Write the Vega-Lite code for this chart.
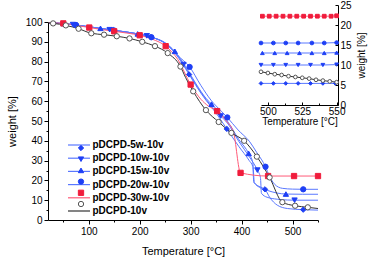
{
"$schema":"https://vega.github.io/schema/vega-lite/v6.json",
"width":270,"height":198,
"autosize":"none",
"padding":{"left":48,"top":22,"right":51,"bottom":38},
"background":"white",
"config":{"view":{"stroke":null},"font":"Liberation Sans",
"axis":{"grid":false,"domainColor":"black","tickColor":"black","labelColor":"black","titleColor":"black","labelFontSize":10,"titleFontSize":11,"titleFontWeight":"normal","labelFlush":false,"labelOverlap":false,"domainWidth":1,"tickWidth":1}},
"datasets":{
"curves":[
{"series":"pDCPD-5w-10v","T":22,"w":99.6},{"series":"pDCPD-5w-10v","T":50,"w":99.2},{"series":"pDCPD-5w-10v","T":75,"w":98.5},{"series":"pDCPD-5w-10v","T":100,"w":97.6},{"series":"pDCPD-5w-10v","T":125,"w":96.7},{"series":"pDCPD-5w-10v","T":150,"w":95.8},{"series":"pDCPD-5w-10v","T":175,"w":94.9},{"series":"pDCPD-5w-10v","T":200,"w":93.8},{"series":"pDCPD-5w-10v","T":225,"w":92.2},{"series":"pDCPD-5w-10v","T":250,"w":89.2},{"series":"pDCPD-5w-10v","T":270,"w":84},{"series":"pDCPD-5w-10v","T":297,"w":73.5},{"series":"pDCPD-5w-10v","T":310,"w":68},{"series":"pDCPD-5w-10v","T":330,"w":60.5},{"series":"pDCPD-5w-10v","T":350,"w":54},{"series":"pDCPD-5w-10v","T":371,"w":46},{"series":"pDCPD-5w-10v","T":395,"w":37},{"series":"pDCPD-5w-10v","T":415,"w":30},{"series":"pDCPD-5w-10v","T":422,"w":27},{"series":"pDCPD-5w-10v","T":424,"w":19},{"series":"pDCPD-5w-10v","T":440,"w":16.3},{"series":"pDCPD-5w-10v","T":446,"w":15.5},{"series":"pDCPD-5w-10v","T":455,"w":11.5},{"series":"pDCPD-5w-10v","T":470,"w":7.5},{"series":"pDCPD-5w-10v","T":490,"w":5.8},{"series":"pDCPD-5w-10v","T":521,"w":5.2},{"series":"pDCPD-5w-10v","T":550,"w":5.0},
{"series":"pDCPD-10w-10v","T":22,"w":99.6},{"series":"pDCPD-10w-10v","T":50,"w":99.2},{"series":"pDCPD-10w-10v","T":75,"w":98.5},{"series":"pDCPD-10w-10v","T":100,"w":97.6},{"series":"pDCPD-10w-10v","T":125,"w":96.7},{"series":"pDCPD-10w-10v","T":150,"w":95.8},{"series":"pDCPD-10w-10v","T":175,"w":94.9},{"series":"pDCPD-10w-10v","T":200,"w":93.8},{"series":"pDCPD-10w-10v","T":225,"w":92.2},{"series":"pDCPD-10w-10v","T":250,"w":89.2},{"series":"pDCPD-10w-10v","T":270,"w":84.5},{"series":"pDCPD-10w-10v","T":286,"w":78.5},{"series":"pDCPD-10w-10v","T":310,"w":68.5},{"series":"pDCPD-10w-10v","T":330,"w":61},{"series":"pDCPD-10w-10v","T":359,"w":52.5},{"series":"pDCPD-10w-10v","T":372,"w":49},{"series":"pDCPD-10w-10v","T":395,"w":39.5},{"series":"pDCPD-10w-10v","T":415,"w":32},{"series":"pDCPD-10w-10v","T":431,"w":25.2},{"series":"pDCPD-10w-10v","T":437,"w":21.5},{"series":"pDCPD-10w-10v","T":439,"w":13.5},{"series":"pDCPD-10w-10v","T":450,"w":11.5},{"series":"pDCPD-10w-10v","T":470,"w":10.5},{"series":"pDCPD-10w-10v","T":490,"w":10.1},{"series":"pDCPD-10w-10v","T":504,"w":10},{"series":"pDCPD-10w-10v","T":550,"w":10},
{"series":"pDCPD-15w-10v","T":22,"w":99.6},{"series":"pDCPD-15w-10v","T":51,"w":99.2},{"series":"pDCPD-15w-10v","T":75,"w":98.5},{"series":"pDCPD-15w-10v","T":100,"w":97.6},{"series":"pDCPD-15w-10v","T":123,"w":96.8},{"series":"pDCPD-15w-10v","T":150,"w":95.8},{"series":"pDCPD-15w-10v","T":175,"w":94.9},{"series":"pDCPD-15w-10v","T":196,"w":94},{"series":"pDCPD-15w-10v","T":225,"w":92.2},{"series":"pDCPD-15w-10v","T":250,"w":89.4},{"series":"pDCPD-15w-10v","T":269,"w":85.2},{"series":"pDCPD-15w-10v","T":290,"w":77.5},{"series":"pDCPD-15w-10v","T":310,"w":69},{"series":"pDCPD-15w-10v","T":330,"w":61.5},{"series":"pDCPD-15w-10v","T":341,"w":58.5},{"series":"pDCPD-15w-10v","T":372,"w":50},{"series":"pDCPD-15w-10v","T":395,"w":40.5},{"series":"pDCPD-15w-10v","T":414,"w":33.6},{"series":"pDCPD-15w-10v","T":422,"w":29},{"series":"pDCPD-15w-10v","T":425,"w":19},{"series":"pDCPD-15w-10v","T":435,"w":16.5},{"series":"pDCPD-15w-10v","T":450,"w":15},{"series":"pDCPD-15w-10v","T":470,"w":13.6},{"series":"pDCPD-15w-10v","T":487,"w":13.1},{"series":"pDCPD-15w-10v","T":520,"w":13},{"series":"pDCPD-15w-10v","T":550,"w":13},
{"series":"pDCPD-20w-10v","T":22,"w":99.6},{"series":"pDCPD-20w-10v","T":50,"w":99.2},{"series":"pDCPD-20w-10v","T":75,"w":98.5},{"series":"pDCPD-20w-10v","T":100,"w":97.6},{"series":"pDCPD-20w-10v","T":125,"w":96.7},{"series":"pDCPD-20w-10v","T":149,"w":95.8},{"series":"pDCPD-20w-10v","T":175,"w":94.9},{"series":"pDCPD-20w-10v","T":200,"w":93.8},{"series":"pDCPD-20w-10v","T":223,"w":92.3},{"series":"pDCPD-20w-10v","T":250,"w":89.5},{"series":"pDCPD-20w-10v","T":275,"w":83},{"series":"pDCPD-20w-10v","T":298,"w":77.3},{"series":"pDCPD-20w-10v","T":320,"w":68},{"series":"pDCPD-20w-10v","T":340,"w":60.5},{"series":"pDCPD-20w-10v","T":360,"w":55},{"series":"pDCPD-20w-10v","T":372,"w":51.8},{"series":"pDCPD-20w-10v","T":393,"w":45.5},{"series":"pDCPD-20w-10v","T":416,"w":39.5},{"series":"pDCPD-20w-10v","T":430,"w":34},{"series":"pDCPD-20w-10v","T":447,"w":26.9},{"series":"pDCPD-20w-10v","T":455,"w":22},{"series":"pDCPD-20w-10v","T":465,"w":18},{"series":"pDCPD-20w-10v","T":480,"w":16},{"series":"pDCPD-20w-10v","T":500,"w":15.6},{"series":"pDCPD-20w-10v","T":521,"w":15.5},{"series":"pDCPD-20w-10v","T":550,"w":15.5},
{"series":"pDCPD-30w-10v","T":22,"w":99.6},{"series":"pDCPD-30w-10v","T":50,"w":99.3},{"series":"pDCPD-30w-10v","T":75,"w":98.3},{"series":"pDCPD-30w-10v","T":101,"w":97.2},{"series":"pDCPD-30w-10v","T":125,"w":96.2},{"series":"pDCPD-30w-10v","T":150,"w":95.3},{"series":"pDCPD-30w-10v","T":175,"w":94.4},{"series":"pDCPD-30w-10v","T":200,"w":93.3},{"series":"pDCPD-30w-10v","T":225,"w":91.3},{"series":"pDCPD-30w-10v","T":251,"w":87.8},{"series":"pDCPD-30w-10v","T":275,"w":81},{"series":"pDCPD-30w-10v","T":300,"w":68.4},{"series":"pDCPD-30w-10v","T":320,"w":61},{"series":"pDCPD-30w-10v","T":335,"w":57.5},{"series":"pDCPD-30w-10v","T":352,"w":55},{"series":"pDCPD-30w-10v","T":370,"w":50},{"series":"pDCPD-30w-10v","T":384,"w":44.5},{"series":"pDCPD-30w-10v","T":398,"w":23.8},{"series":"pDCPD-30w-10v","T":452,"w":22.2},{"series":"pDCPD-30w-10v","T":503,"w":22.2},{"series":"pDCPD-30w-10v","T":550,"w":22.2},
{"series":"pDCPD-10v","T":22,"w":99.5},{"series":"pDCPD-10v","T":30,"w":99.3},{"series":"pDCPD-10v","T":55,"w":98.3},{"series":"pDCPD-10v","T":80,"w":96.6},{"series":"pDCPD-10v","T":105,"w":94.3},{"series":"pDCPD-10v","T":130,"w":93.6},{"series":"pDCPD-10v","T":155,"w":92.8},{"series":"pDCPD-10v","T":180,"w":91.7},{"series":"pDCPD-10v","T":205,"w":90},{"series":"pDCPD-10v","T":230,"w":87.8},{"series":"pDCPD-10v","T":255,"w":84.3},{"series":"pDCPD-10v","T":280,"w":77.5},{"series":"pDCPD-10v","T":290,"w":72},{"series":"pDCPD-10v","T":305,"w":65},{"series":"pDCPD-10v","T":330,"w":55.5},{"series":"pDCPD-10v","T":355,"w":49.5},{"series":"pDCPD-10v","T":380,"w":44},{"series":"pDCPD-10v","T":405,"w":40},{"series":"pDCPD-10v","T":430,"w":32},{"series":"pDCPD-10v","T":455,"w":21.5},{"series":"pDCPD-10v","T":480,"w":9},{"series":"pDCPD-10v","T":505,"w":7.2},{"series":"pDCPD-10v","T":530,"w":6.4},{"series":"pDCPD-10v","T":550,"w":5.8}
],
"markers":[
{"series":"pDCPD-20w-10v","T":75,"w":98.5},{"series":"pDCPD-20w-10v","T":149,"w":95.8},{"series":"pDCPD-20w-10v","T":223,"w":92.3},{"series":"pDCPD-20w-10v","T":298,"w":77.3},{"series":"pDCPD-20w-10v","T":372,"w":51.8},{"series":"pDCPD-20w-10v","T":447,"w":26.9},{"series":"pDCPD-20w-10v","T":521,"w":15.5},
{"series":"pDCPD-15w-10v","T":51,"w":99.2},{"series":"pDCPD-15w-10v","T":123,"w":96.8},{"series":"pDCPD-15w-10v","T":196,"w":94},{"series":"pDCPD-15w-10v","T":269,"w":85.2},{"series":"pDCPD-15w-10v","T":341,"w":58.5},{"series":"pDCPD-15w-10v","T":414,"w":33.6},{"series":"pDCPD-15w-10v","T":487,"w":13.1},
{"series":"pDCPD-10w-10v","T":69,"w":98.7},{"series":"pDCPD-10w-10v","T":141,"w":96.1},{"series":"pDCPD-10w-10v","T":214,"w":93},{"series":"pDCPD-10w-10v","T":286,"w":78.5},{"series":"pDCPD-10w-10v","T":359,"w":52.5},{"series":"pDCPD-10w-10v","T":431,"w":25.2},{"series":"pDCPD-10w-10v","T":504,"w":10},
{"series":"pDCPD-5w-10v","T":73,"w":98.6},{"series":"pDCPD-5w-10v","T":148,"w":95.9},{"series":"pDCPD-5w-10v","T":222,"w":92.4},{"series":"pDCPD-5w-10v","T":297,"w":73.5},{"series":"pDCPD-5w-10v","T":371,"w":46},{"series":"pDCPD-5w-10v","T":446,"w":15.5},{"series":"pDCPD-5w-10v","T":521,"w":5.2},
{"series":"pDCPD-30w-10v","T":50,"w":99.3},{"series":"pDCPD-30w-10v","T":101,"w":97.2},{"series":"pDCPD-30w-10v","T":150,"w":95.3},{"series":"pDCPD-30w-10v","T":200,"w":93.3},{"series":"pDCPD-30w-10v","T":251,"w":87.8},{"series":"pDCPD-30w-10v","T":300,"w":68.4},{"series":"pDCPD-30w-10v","T":352,"w":55},{"series":"pDCPD-30w-10v","T":398,"w":23.8},{"series":"pDCPD-30w-10v","T":452,"w":22.2},{"series":"pDCPD-30w-10v","T":503,"w":22.2},{"series":"pDCPD-30w-10v","T":550,"w":22.2},
{"series":"pDCPD-10v","T":30,"w":99.3},{"series":"pDCPD-10v","T":55,"w":98.3},{"series":"pDCPD-10v","T":80,"w":96.6},{"series":"pDCPD-10v","T":105,"w":94.3},{"series":"pDCPD-10v","T":130,"w":93.6},{"series":"pDCPD-10v","T":155,"w":92.8},{"series":"pDCPD-10v","T":180,"w":91.7},{"series":"pDCPD-10v","T":205,"w":90},{"series":"pDCPD-10v","T":230,"w":87.8},{"series":"pDCPD-10v","T":255,"w":84.3},{"series":"pDCPD-10v","T":280,"w":77.5},{"series":"pDCPD-10v","T":305,"w":65},{"series":"pDCPD-10v","T":330,"w":55.5},{"series":"pDCPD-10v","T":355,"w":49.5},{"series":"pDCPD-10v","T":380,"w":44},{"series":"pDCPD-10v","T":405,"w":40},{"series":"pDCPD-10v","T":430,"w":32},{"series":"pDCPD-10v","T":455,"w":21.5},{"series":"pDCPD-10v","T":480,"w":9},{"series":"pDCPD-10v","T":505,"w":7.2},{"series":"pDCPD-10v","T":530,"w":6.4}
],
"inset":[
{"series":"pDCPD-30w-10v","T":496,"w":22.2},{"series":"pDCPD-30w-10v","T":501,"w":22.2},{"series":"pDCPD-30w-10v","T":506,"w":22.2},{"series":"pDCPD-30w-10v","T":511,"w":22.2},{"series":"pDCPD-30w-10v","T":516,"w":22.2},{"series":"pDCPD-30w-10v","T":521,"w":22.2},{"series":"pDCPD-30w-10v","T":526,"w":22.2},{"series":"pDCPD-30w-10v","T":531,"w":22.2},{"series":"pDCPD-30w-10v","T":536,"w":22.2},{"series":"pDCPD-30w-10v","T":541,"w":22.2},{"series":"pDCPD-30w-10v","T":546,"w":22.2},{"series":"pDCPD-30w-10v","T":550,"w":22.3},
{"series":"pDCPD-20w-10v","T":495,"w":15.5},{"series":"pDCPD-20w-10v","T":504,"w":15.5},{"series":"pDCPD-20w-10v","T":513,"w":15.5},{"series":"pDCPD-20w-10v","T":522,"w":15.5},{"series":"pDCPD-20w-10v","T":532,"w":15.5},{"series":"pDCPD-20w-10v","T":541,"w":15.5},{"series":"pDCPD-20w-10v","T":550,"w":15.6},
{"series":"pDCPD-15w-10v","T":496,"w":13},{"series":"pDCPD-15w-10v","T":505,"w":13},{"series":"pDCPD-15w-10v","T":514,"w":13},{"series":"pDCPD-15w-10v","T":523,"w":13},{"series":"pDCPD-15w-10v","T":532,"w":13},{"series":"pDCPD-15w-10v","T":541,"w":13},{"series":"pDCPD-15w-10v","T":550,"w":13.1},
{"series":"pDCPD-10w-10v","T":495,"w":10},{"series":"pDCPD-10w-10v","T":504,"w":10},{"series":"pDCPD-10w-10v","T":513,"w":10},{"series":"pDCPD-10w-10v","T":522,"w":10},{"series":"pDCPD-10w-10v","T":531,"w":10},{"series":"pDCPD-10w-10v","T":540,"w":10},{"series":"pDCPD-10w-10v","T":550,"w":10.1},
{"series":"pDCPD-5w-10v","T":495,"w":5.4},{"series":"pDCPD-5w-10v","T":504,"w":5.4},{"series":"pDCPD-5w-10v","T":513,"w":5.4},{"series":"pDCPD-5w-10v","T":522,"w":5.4},{"series":"pDCPD-5w-10v","T":531,"w":5.4},{"series":"pDCPD-5w-10v","T":540,"w":5.4},{"series":"pDCPD-5w-10v","T":549,"w":5.4},
{"series":"pDCPD-10v","T":495,"w":8.3},{"series":"pDCPD-10v","T":500,"w":8.0},{"series":"pDCPD-10v","T":505,"w":7.7},{"series":"pDCPD-10v","T":510,"w":7.5},{"series":"pDCPD-10v","T":515,"w":7.2},{"series":"pDCPD-10v","T":520,"w":7.0},{"series":"pDCPD-10v","T":525,"w":6.8},{"series":"pDCPD-10v","T":530,"w":6.6},{"series":"pDCPD-10v","T":535,"w":6.3},{"series":"pDCPD-10v","T":540,"w":6.1},{"series":"pDCPD-10v","T":545,"w":5.9},{"series":"pDCPD-10v","T":550,"w":5.7}
]
},
"layer":[
{"encoding":{
"x":{"field":"T","type":"quantitative","scale":{"domain":[20,550],"nice":false,"zero":false},
"axis":{"title":"Temperature [°C]","values":[100,200,300,400,500],"tickSize":4,"labelPadding":2,"titlePadding":9,"labelOverlap":false}},
"y":{"field":"w","type":"quantitative","scale":{"domain":[0,100],"nice":false},
"axis":{"title":"weight [%]","values":[0,10,20,30,40,50,60,70,80,90,100],"tickSize":4,"labelPadding":2,"titlePadding":8,"labelOverlap":false}}},
"layer":[
{"data":{"name":"curves"},"mark":{"type":"line","interpolate":"monotone","strokeWidth":1},
"encoding":{
"color":{"field":"series","type":"nominal","scale":{"domain":["pDCPD-5w-10v","pDCPD-10w-10v","pDCPD-15w-10v","pDCPD-20w-10v","pDCPD-30w-10v","pDCPD-10v"],"range":["#5a78ff","#5a78ff","#5a78ff","#5a78ff","#ff5a78","#333333"]},
"legend":{"orient":"none","legendX":24.5,"legendY":116.5,"title":null,"symbolType":"M-2,0L2,0","symbolSize":121,"symbolStrokeWidth":1.2,"labelFontWeight":"bold","labelFontSize":10,"labelColor":"black","labelOffset":7,"rowPadding":1.2,"padding":0}}
}},
{"data":{"name":"markers"},"mark":{"type":"point","size":28,"strokeWidth":1,"opacity":1},
"encoding":{
"shape":{"field":"series","type":"nominal","scale":{"domain":["pDCPD-5w-10v","pDCPD-10w-10v","pDCPD-15w-10v","pDCPD-20w-10v","pDCPD-30w-10v","pDCPD-10v"],"range":["diamond","triangle-down","triangle-up","circle","square","circle"]},
"legend":{"orient":"bottom-left","offset":11,"symbolOffset":17,"title":null,"labelExpr":"''","labelFontSize":10,"symbolSize":28,"symbolStrokeWidth":1,"rowPadding":1.2,"padding":0,
"encode":{"symbols":{"update":{"fill":{"scale":"fill","field":"value"},"stroke":{"scale":"stroke","field":"value"},"opacity":{"value":1}}}}}},
"fill":{"field":"series","type":"nominal","legend":null,"scale":{"domain":["pDCPD-5w-10v","pDCPD-10w-10v","pDCPD-15w-10v","pDCPD-20w-10v","pDCPD-30w-10v","pDCPD-10v"],"range":["#1e3ff5","#1e3ff5","#1e3ff5","#1e3ff5","#f01c3c","#ffffff"]}},
"stroke":{"field":"series","type":"nominal","legend":null,"scale":{"domain":["pDCPD-5w-10v","pDCPD-10w-10v","pDCPD-15w-10v","pDCPD-20w-10v","pDCPD-30w-10v","pDCPD-10v"],"range":["#1e3ff5","#1e3ff5","#1e3ff5","#1e3ff5","#f01c3c","#555555"]}}
}}
]},
{"encoding":{
"x":{"field":"T","type":"quantitative","scale":{"domain":[495,551],"range":[213,290],"nice":false,"zero":false},
"axis":{"orient":"bottom","offset":-115,"title":"Temperature [°C]","titleFontSize":10,"values":[500,512.5,525,537.5,550],"labelExpr":"datum.value % 25 === 0 ? datum.label : ''","tickSize":{"condition":{"test":"datum.value % 25 === 0","value":-3},"value":-2},"labelPadding":4,"titlePadding":-1,"labelOverlap":false}},
"y":{"field":"w","type":"quantitative","scale":{"domain":[0,25],"range":[83,-17],"nice":false},
"axis":{"orient":"right","offset":20,"title":"weight [%]","titleFontSize":10,"titleAngle":270,"values":[0,5,10,15,20,25],"tickSize":-3,"labelPadding":5,"titlePadding":15,"labelOverlap":false}}},
"layer":[
{"data":{"name":"inset"},"mark":{"type":"line","strokeWidth":1},
"encoding":{"color":{"field":"series","type":"nominal"}}},
{"data":{"name":"inset"},"mark":{"type":"point","size":14,"strokeWidth":1,"opacity":1},
"encoding":{
"shape":{"field":"series","type":"nominal"},
"fill":{"field":"series","type":"nominal","legend":null},
"stroke":{"field":"series","type":"nominal","legend":null}
}}
]},
{"data":{"name":"curves"},"mark":{"type":"point","opacity":0},
"encoding":{
"x":{"field":"T","type":"quantitative","scale":{"domain":[20,550],"nice":false,"zero":false},
"axis":{"orient":"bottom","values":[50,150,250,350,450,550],"tickSize":2,"labels":false,"domain":false,"title":null}},
"y":{"field":"w","type":"quantitative","scale":{"domain":[0,100],"nice":false},
"axis":{"orient":"left","values":[5,15,25,35,45,55,65,75,85,95],"tickSize":2,"labels":false,"domain":false,"title":null}}
}}
],
"resolve":{"scale":{"x":"independent","y":"independent"},"axis":{"x":"independent","y":"independent"}}
}
